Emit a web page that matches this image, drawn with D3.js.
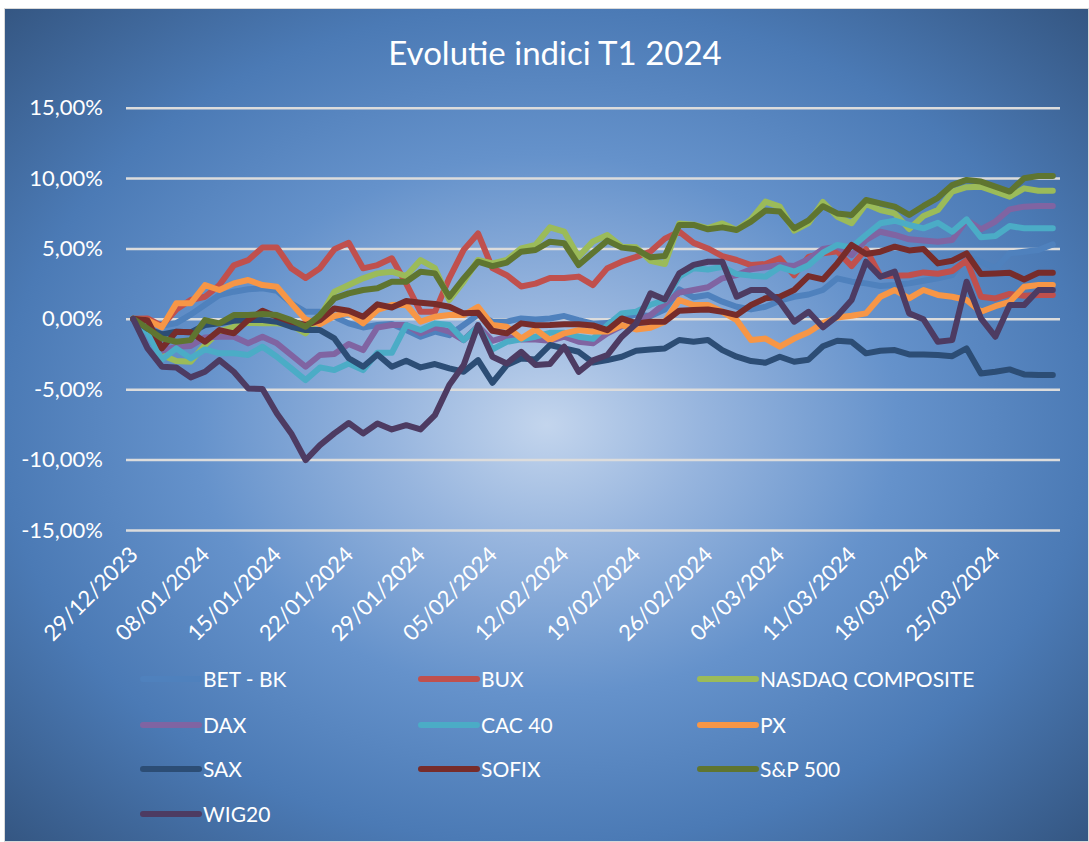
<!DOCTYPE html>
<html>
<head>
<meta charset="utf-8">
<script src="https://cdn.jsdelivr.net/npm/d3@7"></script>
<style>
  html, body { margin: 0; padding: 0; background: #ffffff; }
  svg { display: block; }
  text { font-family: Lato, "Open Sans", sans-serif; fill: #ffffff; }
</style>
</head>
<body>
<svg id="chart"></svg>
<script>
// trading days, Q1 2024
const dates = [
  "29/12/2023",
  "02/01/2024", "03/01/2024", "04/01/2024", "05/01/2024",
  "08/01/2024", "09/01/2024", "10/01/2024", "11/01/2024", "12/01/2024",
  "15/01/2024", "16/01/2024", "17/01/2024", "18/01/2024", "19/01/2024",
  "22/01/2024", "23/01/2024", "24/01/2024", "25/01/2024", "26/01/2024",
  "29/01/2024", "30/01/2024", "31/01/2024", "01/02/2024", "02/02/2024",
  "05/02/2024", "06/02/2024", "07/02/2024", "08/02/2024", "09/02/2024",
  "12/02/2024", "13/02/2024", "14/02/2024", "15/02/2024", "16/02/2024",
  "19/02/2024", "20/02/2024", "21/02/2024", "22/02/2024", "23/02/2024",
  "26/02/2024", "27/02/2024", "28/02/2024", "29/02/2024", "01/03/2024",
  "04/03/2024", "05/03/2024", "06/03/2024", "07/03/2024", "08/03/2024",
  "11/03/2024", "12/03/2024", "13/03/2024", "14/03/2024", "15/03/2024",
  "18/03/2024", "19/03/2024", "20/03/2024", "21/03/2024", "22/03/2024",
  "25/03/2024", "26/03/2024", "27/03/2024", "28/03/2024", "29/03/2024"
];

const seriesNames = ["BET - BK", "BUX", "NASDAQ COMPOSITE", "DAX", "CAC 40", "PX", "SAX", "SOFIX", "S&P 500", "WIG20"];
const seriesColors = ["#4f81bd", "#c0504d", "#9bbb59", "#8064a2", "#4bacc6", "#f79646", "#2c4d75", "#772c2a", "#5f7530", "#4d3b62"];

const yTicks = [-15, -10, -5, 0, 5, 10, 15];

// values in %
const betBk = [0, -0.2, -0.5, -0.3, 0.3, 1.0, 1.69, 1.93, 2.1, 2.17, 2.0, 1.1, 0.5, 0.5, 0.15, -0.32,
  -0.61, -0.44, -0.37, -0.8, -1.27, -0.91, -1.16, -0.44, 0.3, -0.2, -0.2, 0.03, -0.04, 0.03, 0.2, -0.09, -0.35,
  -0.3, 0.0, 0.3, 0.2, 0.67, 2.09, 1.53, 1.7, 1.22, 0.86, 0.67, 0.86, 1.29, 1.57, 1.73, 2.05,
  2.88, 2.64, 2.52, 2.33, 2.4, 2.52, 2.71, 2.88, 3.11, 4.41, 4.06, 3.59, 4.65, 4.77, 4.89, 5.29];
const bux = [0, 0.03, -0.5, 0.67, 1.34, 1.57, 2.4, 3.8, 4.17, 5.07, 5.07, 3.6, 2.9, 3.6, 4.94, 5.4,
  3.59, 3.82, 4.3, 2.5, 0.5, 0.5, 2.9, 4.9, 6.07, 3.6, 3.1, 2.3, 2.5, 2.9, 2.9, 3.0, 2.4,
  3.6, 4.06, 4.4, 4.78, 5.7, 6.2, 5.4, 5.0, 4.46, 4.18, 3.82, 3.9, 4.3, 3.1, 4.4, 4.65,
  4.8, 3.75, 4.95, 3.05, 3.07, 3.1, 3.3, 3.2, 3.4, 4.15, 1.57, 1.45, 1.77, 1.64, 1.7, 1.7];
const nasdaq = [0, -0.68, -2.57, -3.0, -3.05, -1.86, -0.91, -0.56, -0.27, -0.32, -0.32, -0.44, -1.03, 0.15, 1.93, 2.4,
  2.88, 3.23, 3.35, 3.04, 4.18, 3.6, 1.34, 2.64, 4.18, 3.94, 4.18, 5.01, 5.25, 6.5, 6.19, 4.42, 5.5,
  5.96, 5.13, 5.08, 4.13, 3.9, 6.78, 6.69, 6.45, 6.78, 6.31, 7.07, 8.33, 7.97, 6.27, 6.8, 8.3,
  7.26, 6.79, 8.16, 7.73, 7.49, 6.38, 7.31, 7.73, 9.04, 9.35, 9.39, 9.04, 8.68, 9.27, 9.1, 9.1];
const dax = [0, -0.44, -2.27, -1.98, -1.93, -1.32, -1.27, -1.27, -1.74, -1.27, -1.74, -2.57, -3.4, -2.57, -2.5, -1.79,
  -2.22, -0.61, -0.44, -0.44, -1.03, -0.61, -0.91, -1.51, -0.51, -1.56, -1.27, -1.46, -1.46, -1.56, -1.27, -1.63, -1.74,
  -1.03, -0.51, -0.2, 0.27, 1.1, 1.86, 2.05, 2.24, 2.88, 3.11, 3.52, 3.67, 3.83, 3.76, 4.24, 4.97,
  5.13, 4.53, 5.6, 6.19, 5.96, 5.65, 5.56, 5.48, 5.6, 7.02, 6.36, 6.91, 7.78, 7.97, 8.02, 8.02];
const cac40 = [0, -0.99, -2.88, -2.1, -2.81, -2.17, -2.45, -2.45, -2.57, -1.98, -2.69, -3.52, -4.35, -3.45, -3.64, -3.17,
  -3.64, -2.41, -2.41, -0.44, -0.79, -0.32, -0.44, -1.51, -0.56, -2.17, -1.63, -1.46, -1.27, -0.99, -0.99, -1.27, -1.42,
  -0.44, 0.39, 0.51, 1.0, 1.34, 3.0, 3.6, 3.5, 3.7, 3.18, 3.07, 3.0, 3.67, 3.35, 3.8, 4.7,
  5.25, 5.08, 5.96, 6.79, 6.97, 6.67, 6.43, 6.83, 6.19, 7.07, 5.79, 5.88, 6.59, 6.43, 6.43, 6.43];
const px = [0, -0.09, -0.6, 1.1, 1.1, 2.4, 2.05, 2.52, 2.76, 2.4, 2.28, 1.1, -0.04, -0.37, 0.2, 0.43,
  -0.32, 0.63, 0.98, 1.0, -0.2, 0.15, 0.27, 0.27, 0.86, -0.44, -0.56, -1.39, -0.75, -1.5, -1.03, -0.8, -0.9,
  -0.9, -0.44, -0.75, -0.63, -0.2, 1.34, 0.98, 0.98, 0.5, -0.09, -1.5, -1.4, -1.98, -1.4, -0.95, -0.3,
  0.1, 0.22, 0.39, 1.57, 2.05, 1.46, 2.05, 1.7, 1.57, 1.34, 0.5, 0.9, 1.2, 2.28, 2.4, 2.4];
const sax = [0, -0.7, -1.1, -0.91, -0.96, -0.44, -0.32, -0.13, -0.09, -0.09, -0.2, -0.56, -0.8, -0.8, -1.39, -2.8,
  -3.4, -2.53, -3.4, -2.98, -3.45, -3.21, -3.52, -3.76, -2.93, -4.54, -3.28, -2.81, -2.88, -1.86, -2.1, -2.34, -3.1,
  -2.93, -2.69, -2.27, -2.17, -2.1, -1.5, -1.63, -1.5, -2.22, -2.69, -3.0, -3.12, -2.69, -3.05, -2.9, -1.95,
  -1.55, -1.63, -2.45, -2.27, -2.22, -2.53, -2.53, -2.57, -2.65, -2.1, -3.88, -3.76, -3.59, -3.95, -3.99, -3.99];
const sofix = [0, -0.1, -2.1, -0.91, -0.96, -1.63, -0.8, -1.03, -0.09, 0.58, 0.15, -0.2, -0.44, -0.09, 0.74, 0.58,
  0.15, 1.03, 0.81, 1.27, 1.15, 1.05, 0.86, 0.39, 0.43, -0.85, -1.03, -0.32, -0.46, -0.44, -0.39, -0.39, -0.47,
  -0.8, 0.03, -0.32, -0.2, -0.2, 0.58, 0.63, 0.67, 0.51, 0.27, 0.98, 1.46, 1.57, 2.05, 3.04, 2.8,
  3.94, 5.25, 4.61, 4.77, 5.13, 4.86, 4.96, 3.94, 4.13, 4.65, 3.18, 3.23, 3.28, 2.8, 3.28, 3.28];
const sp500 = [0, -0.68, -1.39, -1.63, -1.51, -0.09, -0.32, 0.27, 0.27, 0.34, 0.27, -0.09, -0.56, 0.27, 1.45, 1.81,
  2.05, 2.17, 2.64, 2.64, 3.35, 3.23, 1.57, 2.87, 4.06, 3.75, 4.0, 4.77, 4.89, 5.48, 5.37, 3.82, 4.7,
  5.56, 5.06, 4.94, 4.37, 4.46, 6.67, 6.67, 6.36, 6.5, 6.31, 6.9, 7.69, 7.62, 6.43, 7.0, 8.0,
  7.49, 7.38, 8.44, 8.2, 7.97, 7.38, 8.02, 8.6, 9.5, 9.87, 9.75, 9.39, 9.04, 9.99, 10.15, 10.15];
const wig20 = [0, -2.1, -3.4, -3.45, -4.16, -3.76, -2.93, -3.76, -4.94, -4.99, -6.72, -8.14, -10.04, -8.97, -8.14, -7.4,
  -8.14, -7.43, -7.86, -7.55, -7.86, -6.84, -4.7, -3.28, -0.44, -2.69, -3.17, -2.34, -3.28, -3.21, -1.98, -3.76, -2.95,
  -2.57, -1.27, -0.35, 1.81, 1.38, 3.23, 3.83, 4.06, 4.06, 1.57, 2.05, 2.05, 1.22, -0.2, 0.5, -0.6,
  0.2, 1.34, 4.06, 2.99, 3.35, 0.39, -0.03, -1.63, -1.51, 2.64, 0.03, -1.27, 0.98, 0.98, 2.05, 2.05];

const seriesValues = [betBk, bux, nasdaq, dax, cac40, px, sax, sofix, sp500, wig20];

const W = 1089, H = 842;
const plot = { left: 126, right: 1060, top: 107.7, bottom: 530 };

const svg = d3.select("#chart").attr("width", W).attr("height", H);

//background gradient
const defs = svg.append("defs");
const grad = defs.append("radialGradient")
  .attr("id", "bg")
  .attr("cx", "0.5").attr("cy", "0.5").attr("r", "0.72");
[[0, "#c3d5ed"], [0.2, "#97b5de"], [0.45, "#6592cb"], [0.7, "#4b7ab5"], [1, "#33547f"]]
  .forEach(s => grad.append("stop").attr("offset", s[0]).attr("stop-color", s[1]));

svg.append("rect")
  .attr("x", 4.5).attr("y", 8.5)
  .attr("width", W - 5).attr("height", H - 9)
  .attr("fill", "url(#bg)")
  .attr("stroke", "#d9d9d9")
  .attr("stroke-width", 1);

//title
svg.append("text")
  .attr("x", 555).attr("y", 65)
  .attr("text-anchor", "middle")
  .attr("font-size", "33px")
  .text("Evolutie indici T1 2024");

//scales
const x = d3.scaleBand().domain(dates).range([plot.left, plot.right]).padding(0);
const cx = d => x(d) + x.bandwidth() / 2;
const y = d3.scaleLinear().domain([-15, 15]).range([plot.bottom, plot.top]);

const fmt = d3.formatLocale({ decimal: ",", thousands: ".", grouping: [3], currency: ["", ""], minus: "-" }).format(".2f");

//gridlines + y labels
const yAxis = svg.append("g")
  .attr("transform", `translate(${plot.left},0)`)
  .call(d3.axisLeft(y).tickValues(yTicks).tickSize(-(plot.right - plot.left)).tickPadding(23).tickFormat(d => fmt(d) + "%"));
yAxis.select(".domain").remove();
yAxis.selectAll(".tick line").attr("stroke", "#dcdcdc").attr("stroke-width", 2.5);
yAxis.selectAll(".tick text")
  .attr("fill", "#ffffff")
  .attr("font-size", "22px")
  .attr("font-family", "Lato, sans-serif");

//x labels, every 5th trading day
const xAxis = svg.append("g")
  .attr("transform", `translate(0,${plot.bottom})`)
  .call(d3.axisBottom(x).tickValues(dates.filter((d, i) => i % 5 === 0)).tickSize(0).tickFormat(d => d));
xAxis.select(".domain").remove();
xAxis.selectAll(".tick text")
  .attr("fill", "#ffffff")
  .attr("font-size", "22px")
  .attr("font-family", "Lato, sans-serif")
  .attr("text-anchor", "end")
  .attr("dy", null)
  .attr("y", 0)
  .attr("transform", "translate(6,26) rotate(-45)");

//lines
const line = d3.line()
  .x((v, i) => cx(dates[i]))
  .y(v => y(v));

svg.append("g").selectAll("path")
  .data(seriesValues)
  .enter()
  .append("path")
    .attr("d", d => line(d))
    .attr("fill", "none")
    .attr("stroke", (d, i) => seriesColors[i])
    .attr("stroke-width", 6)
    .attr("stroke-linejoin", "round")
    .attr("stroke-linecap", "round");

//legend
const legCols = [143, 421, 700];
const legRows = [679, 725, 769, 814];
const leg = svg.append("g").selectAll("g")
  .data(seriesNames)
  .enter()
  .append("g")
    .attr("transform", (d, i) => `translate(${legCols[i % 3]},${legRows[Math.floor(i / 3)]})`);
leg.append("line")
  .attr("x1", 0).attr("x2", 56)
  .attr("stroke", (d, i) => seriesColors[i])
  .attr("stroke-width", 6)
  .attr("stroke-linecap", "round");
leg.append("text")
  .attr("x", 60).attr("y", 0)
  .attr("dy", "0.36em")
  .attr("font-size", "21px")
  .text(d => d);
</script>
</body>
</html>
